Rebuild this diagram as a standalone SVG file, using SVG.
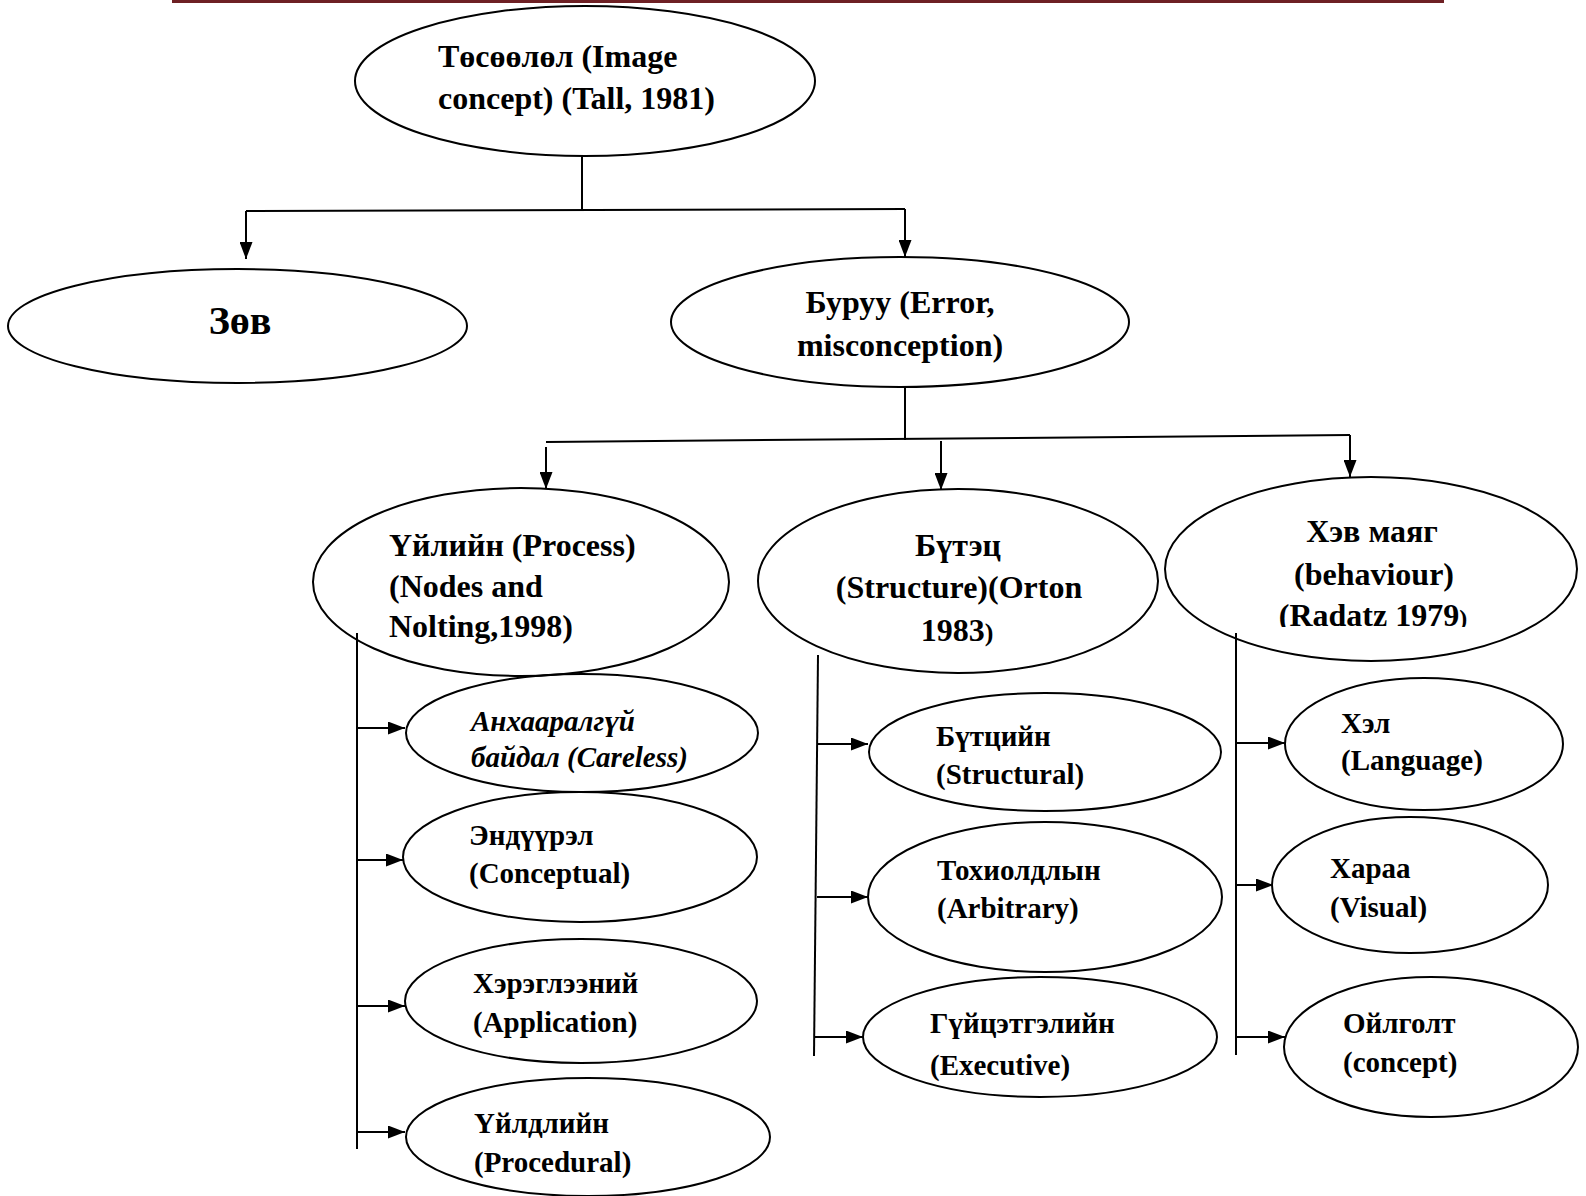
<svg xmlns="http://www.w3.org/2000/svg" width="1586" height="1196" viewBox="0 0 1586 1196">
<style>
.n{fill:none;stroke:#000;stroke-width:2}
.t{font-family:"Liberation Serif","Times New Roman",serif;font-weight:bold;font-size:32px;fill:#000}
.s{font-size:29px}
.i{font-style:italic}
.c{text-anchor:middle}
.e{fill:none;stroke:#000;stroke-width:2}
.ea{fill:none;stroke:#000;stroke-width:2;marker-end:url(#ah)}
</style>
<defs>
<marker id="ah" viewBox="0 0 17 13" refX="17" refY="6.5" markerWidth="17" markerHeight="13" markerUnits="userSpaceOnUse" orient="auto"><path d="M0,0 L17,6.5 L0,13 z" fill="#000"/></marker>
<clipPath id="radclip"><rect x="1200" y="590" width="320" height="37"/></clipPath>
</defs>
<rect x="172" y="0" width="1272" height="3" fill="#6E2024"/>
<g id="connectors">
<path class="e" d="M582,155 V210"/>
<path class="e" d="M246,211 L905,209"/>
<path class="ea" d="M246,211 V259"/>
<path class="ea" d="M905,209 V257"/>
<path class="e" d="M905,387 V440"/>
<path class="e" d="M546,442 L1350,435"/>
<path class="ea" d="M546,447 V489"/>
<path class="ea" d="M941,441 V490"/>
<path class="ea" d="M1350,435 V477"/>
<path class="e" d="M357,633 V1149"/>
<path class="ea" d="M357,728 H405"/>
<path class="ea" d="M357,860 H403"/>
<path class="ea" d="M357,1006 H405"/>
<path class="ea" d="M357,1132 H405"/>
<path class="e" d="M818,655 L814,1056"/>
<path class="ea" d="M818,744 H868"/>
<path class="ea" d="M817,897 H868"/>
<path class="ea" d="M815,1037 H863"/>
<path class="e" d="M1236,633 V1055"/>
<path class="ea" d="M1236,743 H1285"/>
<path class="ea" d="M1236,885 H1273"/>
<path class="ea" d="M1236,1037 H1285"/>
</g>
<g id="node-image-concept">
<ellipse class="n" cx="585" cy="81" rx="230" ry="75"/>
<text class="t" x="438" y="67">Төсөөлөл (Image</text>
<text class="t" x="438" y="109">concept) (Tall, 1981)</text>
</g>
<g id="node-zov">
<ellipse class="n" cx="237.5" cy="326" rx="229.5" ry="57"/>
<text class="t c" x="240" y="334" style="font-size:40px">Зөв</text>
</g>
<g id="node-buruu">
<ellipse class="n" cx="900" cy="322" rx="229" ry="65"/>
<text class="t c" x="900" y="313">Буруу (Error,</text>
<text class="t c" x="900" y="356">misconception)</text>
</g>
<g id="node-process">
<ellipse class="n" cx="521" cy="582" rx="208" ry="94"/>
<text class="t" x="389" y="556">Үйлийн (Process)</text>
<text class="t" x="389" y="597">(Nodes and</text>
<text class="t" x="389" y="637">Nolting,1998)</text>
</g>
<g id="node-structure">
<ellipse class="n" cx="958" cy="581" rx="200" ry="92"/>
<text class="t c" x="958" y="556">Бүтэц</text>
<text class="t c" x="959" y="598">(Structure)(Orton</text>
<text class="t c" x="957" y="641">1983<tspan style="font-size:26px">)</tspan></text>
</g>
<g id="node-behaviour">
<ellipse class="n" cx="1371" cy="569" rx="206" ry="92"/>
<text class="t c" x="1372" y="542">Хэв маяг</text>
<text class="t c" x="1374" y="585">(behaviour)</text>
<text class="t c" x="1373" y="626" clip-path="url(#radclip)">(Radatz 1979<tspan style="font-size:24px">)</tspan></text>
</g>
<g id="node-careless">
<ellipse class="n" cx="582" cy="733" rx="176" ry="59"/>
<text class="t s i" x="471" y="731">Анхааралгүй</text>
<text class="t s i" x="471" y="767">байдал (Careless)</text>
</g>
<g id="node-conceptual">
<ellipse class="n" cx="580" cy="857" rx="177" ry="65"/>
<text class="t s" x="469" y="845">Эндүүрэл</text>
<text class="t s" x="469" y="883">(Conceptual)</text>
</g>
<g id="node-application">
<ellipse class="n" cx="581" cy="1001" rx="176" ry="62"/>
<text class="t s" x="473" y="993">Хэрэглээний</text>
<text class="t s" x="473" y="1032">(Application)</text>
</g>
<g id="node-procedural">
<ellipse class="n" cx="588" cy="1137" rx="182" ry="59"/>
<text class="t s" x="474" y="1133">Үйлдлийн</text>
<text class="t s" x="474" y="1172">(Procedural)</text>
</g>
<g id="node-structural">
<ellipse class="n" cx="1045" cy="752" rx="176" ry="59"/>
<text class="t s" x="936" y="746">Бүтцийн</text>
<text class="t s" x="936" y="784">(Structural)</text>
</g>
<g id="node-arbitrary">
<ellipse class="n" cx="1045" cy="897" rx="177" ry="75"/>
<text class="t s" x="937" y="880">Тохиолдлын</text>
<text class="t s" x="937" y="918">(Arbitrary)</text>
</g>
<g id="node-executive">
<ellipse class="n" cx="1040" cy="1037" rx="177" ry="60"/>
<text class="t s" x="930" y="1033">Гүйцэтгэлийн</text>
<text class="t s" x="930" y="1075">(Executive)</text>
</g>
<g id="node-language">
<ellipse class="n" cx="1424" cy="744" rx="139" ry="66"/>
<text class="t s" x="1341" y="733">Хэл</text>
<text class="t s" x="1341" y="770">(Language)</text>
</g>
<g id="node-visual">
<ellipse class="n" cx="1410" cy="885" rx="138" ry="68"/>
<text class="t s" x="1330" y="878">Хараа</text>
<text class="t s" x="1330" y="917">(Visual)</text>
</g>
<g id="node-concept">
<ellipse class="n" cx="1431" cy="1047" rx="147" ry="70"/>
<text class="t s" x="1343" y="1033">Ойлголт</text>
<text class="t s" x="1343" y="1072">(concept)</text>
</g>
</svg>
